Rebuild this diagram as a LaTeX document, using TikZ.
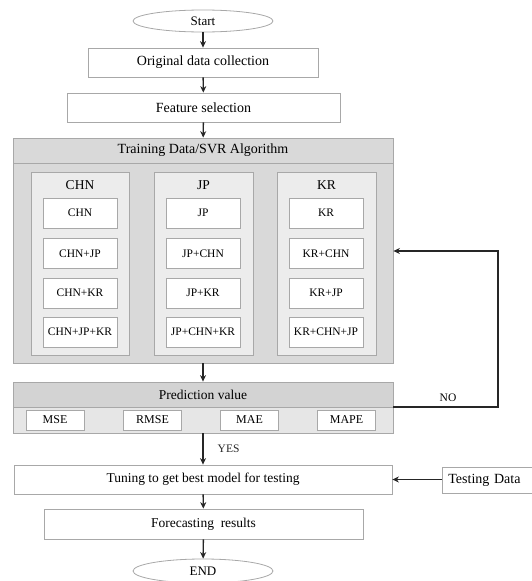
\documentclass[tikz,border=0pt]{standalone}
\usepackage{fontspec}
\setmainfont{Liberation Serif}
\usetikzlibrary{shapes.geometric,arrows.meta}
\definecolor{bordergray}{HTML}{A8A8A8}
\definecolor{outerfill}{HTML}{D9D9D9}
\definecolor{colfill}{HTML}{ECECEC}
\definecolor{predhead}{HTML}{D3D3D3}
\definecolor{predlow}{HTML}{E6E6E6}
\tikzset{
  box/.style={draw=bordergray, line width=0.8pt, fill=white, inner sep=0pt, font=\fontsize{14}{16}\selectfont},
  oval/.style={ellipse, draw=bordergray, line width=0.8pt, fill=white, inner sep=0pt, minimum width=140pt, font=\fontsize{13}{15}\selectfont},
  inner/.style={box, minimum width=74pt, minimum height=30pt, font=\fontsize{11.5}{13}\selectfont},
  metric/.style={box, minimum width=58pt, minimum height=20pt, font=\fontsize{12}{14}\selectfont},
  coltitle/.style={font=\fontsize{13.5}{15}\selectfont, inner sep=0pt},
  lbl/.style={font=\fontsize{11.5}{13}\selectfont, inner sep=0pt},
  arr/.style={-{Stealth[length=6.5pt,width=6pt]}, line width=1.4pt, black!85},
}
\begin{document}
\begin{tikzpicture}[x=1pt,y=-1pt]
\useasboundingbox (0,0) rectangle (532,581);
% start
\node[oval, minimum height=22pt] (start) at (203,21) {Start};
\node[box, minimum width=230pt, minimum height=29pt] (orig) at (203,62.5) {Original data collection};
\node[box, minimum width=273pt, minimum height=29pt] (feat) at (203.5,107.5) {Feature selection};
% training block
\node[box, fill=outerfill, minimum width=380pt, minimum height=225pt] (train) at (203,250.5) {};
\node[box, fill=outerfill, minimum width=380pt, minimum height=25pt] (trainhead) at (203,150.5) {Training Data/SVR Algorithm};
% columns
\node[box, fill=colfill, minimum width=98pt, minimum height=183pt] (colC) at (80,263.5) {};
\node[box, fill=colfill, minimum width=99pt, minimum height=183pt] (colJ) at (203.5,263.5) {};
\node[box, fill=colfill, minimum width=99pt, minimum height=183pt] (colK) at (326.5,263.5) {};
\node[coltitle] (tC) at (80,185) {CHN};
\node[coltitle] (tJ) at (203.5,185) {JP};
\node[coltitle] (tK) at (326.5,185) {KR};
% inner boxes
\node[inner] (c1) at (80,213) {CHN};
\node[inner] (c2) at (80,253.5) {CHN+JP};
\node[inner] (c3) at (80,293) {CHN+KR};
\node[inner] (c4) at (80,332) {CHN+JP+KR};
\node[inner] (j1) at (203,213) {JP};
\node[inner] (j2) at (203,253.5) {JP+CHN};
\node[inner] (j3) at (203,293) {JP+KR};
\node[inner] (j4) at (203,332) {JP+CHN+KR};
\node[inner] (k1) at (326,213) {KR};
\node[inner] (k2) at (326,253.5) {KR+CHN};
\node[inner] (k3) at (326,293) {KR+JP};
\node[inner] (k4) at (326,332) {KR+CHN+JP};
% prediction block
\node[box, fill=predlow, minimum width=380pt, minimum height=26pt] (predlow) at (203,420) {};
\node[box, fill=predhead, minimum width=380pt, minimum height=25pt, font=\fontsize{13.5}{15}\selectfont] (pred) at (203,394.5) {Prediction value};
\node[metric] (mse) at (55,420) {MSE};
\node[metric] (rmse) at (152.5,420) {RMSE};
\node[metric] (mae) at (249.5,420) {MAE};
\node[metric] (mape) at (346.5,420) {MAPE};
% lower
\node[box, minimum width=378pt, minimum height=29pt, font=\fontsize{13.5}{15}\selectfont] (tune) at (203,479.5) {Tuning to get best model for testing};
\node[box, anchor=west, minimum height=26pt, inner xsep=6pt, text width=88pt, align=left, font=\fontsize{14}{16}\selectfont] (test) at (442,480) {Testing Data};
\node[box, minimum width=319pt, minimum height=30pt, font=\fontsize{13.5}{15}\selectfont] (fore) at (203.5,524) {Forecasting\ \ results};
\node[oval, minimum height=24pt] (end) at (203,571) {END};
% connectors
\draw[arr] (start) -- (orig);
\draw[arr] (orig) -- (feat);
\draw[arr] (feat) -- (trainhead);
\draw[arr] (train) -- (pred);
\draw[arr] (predlow.south) -- node[lbl, right=14pt] (yes) {YES} (tune.north);
\coordinate (n1) at (498,407);
\coordinate (n2) at (498,251);
\draw[arr, line width=1.2pt] (393,407) -- (n1) -- (n2) -- (train.east |- n2);
\node[lbl] (no) at (448,398) {NO};
\draw[arr] (test.west |- tune) -- (tune);
\draw[arr] (tune) -- (fore);
\draw[arr] (fore) -- (end);
\end{tikzpicture}
\end{document}
